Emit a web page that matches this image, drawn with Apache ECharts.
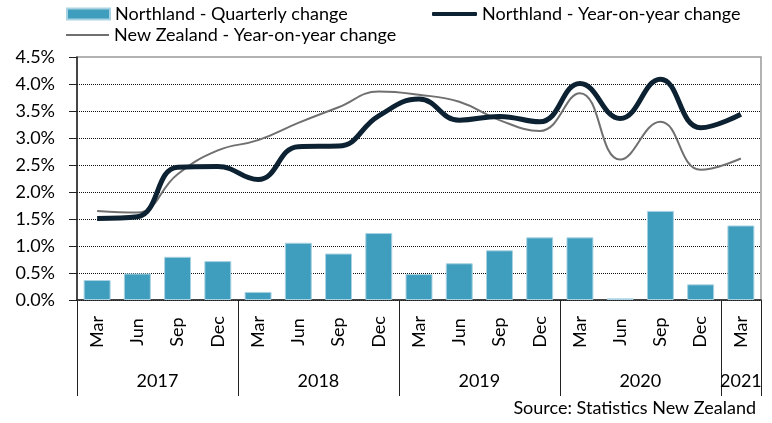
<!DOCTYPE html>
<html><head><meta charset="utf-8">
<script src="https://cdn.jsdelivr.net/npm/echarts@6/dist/echarts.min.js"></script>
<style>html,body{margin:0;padding:0;background:#fff}#c{width:772px;height:423px}</style>
</head><body><div id="c"></div>
<script>
const months = ['Mar','Jun','Sep','Dec','Mar','Jun','Sep','Dec','Mar','Jun','Sep','Dec','Mar','Jun','Sep','Dec','Mar'];
const years = ['2017','2018','2019','2020','2021'];
const quartersPerYear = [4,4,4,4,1];
const northlandQuarterly = [0.37,0.49,0.80,0.72,0.15,1.06,0.86,1.24,0.48,0.68,0.92,1.16,1.16,0.03,1.65,0.29,1.38];
const northlandYoY = [1.51,1.54,2.46,2.47,2.23,2.84,2.85,3.41,3.72,3.33,3.40,3.30,4.01,3.36,4.09,3.19,3.44];
const nzYoY = [1.65,1.62,2.33,2.77,2.96,3.28,3.57,3.86,3.80,3.67,3.33,3.13,3.83,2.60,3.30,2.41,2.62];
const seriesNames = ['Northland - Quarterly change','Northland - Year-on-year change','New Zealand - Year-on-year change'];
const sourceText = 'Source: Statistics New Zealand';

const FONT = 'Lato';
const FS = 18;
const yearBounds = [0];
quartersPerYear.forEach(n => yearBounds.push(yearBounds[yearBounds.length-1] + n));
const yearCentres = quartersPerYear.map((n,i) => yearBounds[i] + n/2);

const legendText = {fontFamily: FONT, fontSize: FS, color: '#000'};
const chart = echarts.init(document.getElementById('c'));
chart.setOption({
  textStyle: {fontFamily: FONT, fontSize: FS, color: '#000'},
  animation: false,
  title: {text: sourceText, right: 16, top: 399, padding: 0,
    textStyle: {fontFamily: FONT, fontSize: FS, fontWeight: 'normal', color: '#000'}},
  legend: [
    {data: [{name: seriesNames[0], icon: 'rect'}], left: 66, top: 5, padding: 0,
     itemWidth: 43, itemHeight: 11, textStyle: legendText},
    {data: [{name: seriesNames[1], icon: 'roundRect'}], left: 432, top: 5, padding: 0,
     itemWidth: 45, itemHeight: 4, textStyle: legendText},
    {data: [{name: seriesNames[2], icon: 'rect'}], left: 66, top: 26, padding: 0,
     itemWidth: 43, itemHeight: 2, textStyle: legendText}
  ],
  grid: {left: 77, right: 11, top: 57, bottom: 123, show: true, borderColor: '#999', borderWidth: 1.5},
  xAxis: [
    {type: 'category', data: months, boundaryGap: true,
     axisLine: {lineStyle: {color: '#222', width: 1.5}},
     axisTick: {interval: 0, length: 53, lineStyle: {color: '#222', width: 1}},
     axisLabel: {interval: 0, rotate: 90, margin: 32, align: 'center', verticalAlign: 'middle',
       fontFamily: FONT, fontSize: FS, color: '#000'}},
    {type: 'value', min: 0, max: months.length, position: 'bottom',
     axisLine: {show: false}, splitLine: {show: false},
     axisTick: {show: true, customValues: yearBounds, length: 96, lineStyle: {color: '#222', width: 1}},
     axisLabel: {customValues: yearCentres, margin: 72, fontFamily: FONT, fontSize: FS, color: '#000',
       formatter: v => years[yearCentres.indexOf(v)] || ''}}
  ],
  yAxis: {type: 'value', min: 0, max: 4.5, interval: 0.5,
    axisLine: {show: true, lineStyle: {color: '#222', width: 1.5}},
    axisTick: {show: true, length: 8, lineStyle: {color: '#222'}},
    axisLabel: {margin: 22, fontFamily: FONT, fontSize: FS, color: '#000', formatter: v => v.toFixed(1) + '%'},
    splitLine: {show: true, showMaxLine: false, lineStyle: {type: 'dotted', color: '#111', width: 1}}},
  series: [
    {name: seriesNames[0], type: 'bar', data: northlandQuarterly, barCategoryGap: '33%',
     itemStyle: {color: '#3f9dbe', borderColor: '#a9d3e2', borderWidth: 1}},
    {name: seriesNames[2], type: 'line', data: nzYoY, smooth: 0.45, symbol: 'none',
     lineStyle: {color: '#707070', width: 2}, itemStyle: {color: '#707070'}},
    {name: seriesNames[1], type: 'line', data: northlandYoY, smooth: 0.45, symbol: 'none',
     lineStyle: {color: '#0c2131', width: 5}, itemStyle: {color: '#0c2131'}}
  ]
});
</script></body></html>
